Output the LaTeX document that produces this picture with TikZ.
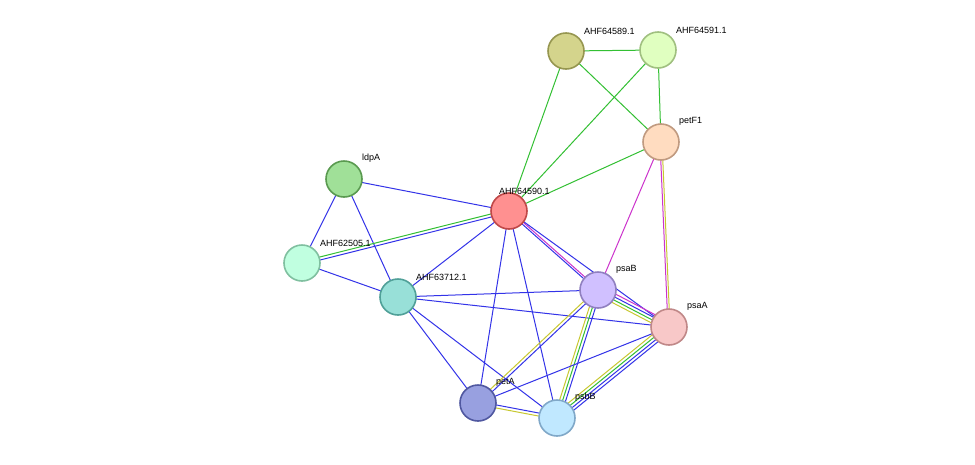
\documentclass[tikz,border=0pt]{standalone}
\usepackage{fontspec}
\setmainfont{Liberation Sans}
\usetikzlibrary{calc}
\definecolor{eg}{HTML}{33C033}
\definecolor{eb}{HTML}{3333E8}
\definecolor{em}{HTML}{CC33CC}
\definecolor{ey}{HTML}{C8C830}
\begin{document}
\begin{tikzpicture}[x=1pt,y=-1pt,
  prot/.style={circle,minimum size=36pt,inner sep=0pt,line width=1.6pt},
  lab/.style={font=\fontsize{9}{10}\selectfont,anchor=south west,inner sep=1pt},
  e/.style={line width=1pt}]
\useasboundingbox[fill=white] (0,0) rectangle (975,464);
\coordinate (c89) at (566,51);
\coordinate (c91) at (658,50);
\coordinate (cF1) at (661,142);
\coordinate (cld) at (344,179);
\coordinate (c90) at (509,211);
\coordinate (c05) at (302,263);
\coordinate (c12) at (398,297);
\coordinate (cB) at (598,290);
\coordinate (cA) at (669,327);
\coordinate (cpA) at (478,403);
\coordinate (cpB) at (557,418);
\newcommand{\medge}[3]{\foreach \c/\o in {#3}{\draw[e,\c] ($(#1)!\o pt!90:(#2)$) -- ($(#2)!\o pt!-90:(#1)$);}}
\medge{c89}{c91}{eg/0}
\medge{c89}{cF1}{eg/0}
\medge{c89}{c90}{eg/0}
\medge{c91}{cF1}{eg/0}
\medge{c91}{c90}{eg/0}
\medge{cF1}{c90}{eg/0}
\medge{cF1}{cB}{em/0}
\medge{cF1}{cA}{em/-1,ey/1}
\medge{cld}{c90}{eb/0}
\medge{cld}{c05}{eb/0}
\medge{cld}{c12}{eb/0}
\medge{c90}{c05}{eg/-1.5,eb/1.5}
\medge{c90}{c12}{eb/0}
\medge{c90}{cB}{eb/-1,em/1}
\medge{c90}{cA}{eb/0}
\medge{c90}{cpA}{eb/0}
\medge{c90}{cpB}{eb/0}
\medge{c05}{c12}{eb/0}
\medge{c12}{cB}{eb/0}
\medge{c12}{cA}{eb/0}
\medge{c12}{cpA}{eb/0}
\medge{c12}{cpB}{eb/0}
\medge{cB}{cA}{ey/-4.5,eg/-1.5,eb/1.5,em/4.5}
\medge{cB}{cpA}{ey/-1.5,eb/1.5}
\medge{cB}{cpB}{ey/-3,eg/0,eb/3}
\medge{cA}{cpA}{eb/0}
\medge{cA}{cpB}{ey/-4.5,eg/-1.5,eb/1.5,eb/4.5}
\medge{cpA}{cpB}{ey/-1.5,eb/1.5}
\node[prot,fill={rgb,255:red,212;green,212;blue,140},draw={rgb,255:red,150;green,150;blue,80}] (n89) at (c89) {};
\node[prot,fill={rgb,255:red,224;green,255;blue,192},draw={rgb,255:red,160;green,192;blue,128}] (n91) at (c91) {};
\node[prot,fill={rgb,255:red,255;green,220;blue,192},draw={rgb,255:red,192;green,154;blue,128}] (nF1) at (cF1) {};
\node[prot,fill={rgb,255:red,160;green,224;blue,152},draw={rgb,255:red,90;green,154;blue,80}] (nld) at (cld) {};
\node[prot,fill={rgb,255:red,255;green,144;blue,144},draw={rgb,255:red,192;green,72;blue,72}] (n90) at (c90) {};
\node[prot,fill={rgb,255:red,192;green,255;blue,224},draw={rgb,255:red,128;green,192;blue,160}] (n05) at (c05) {};
\node[prot,fill={rgb,255:red,152;green,224;blue,216},draw={rgb,255:red,80;green,160;blue,152}] (n12) at (c12) {};
\node[prot,fill={rgb,255:red,208;green,192;blue,255},draw={rgb,255:red,144;green,128;blue,192}] (nB) at (cB) {};
\node[prot,fill={rgb,255:red,248;green,200;blue,200},draw={rgb,255:red,192;green,136;blue,136}] (nA) at (cA) {};
\node[prot,fill={rgb,255:red,152;green,160;blue,224},draw={rgb,255:red,80;green,88;blue,160}] (npA) at (cpA) {};
\node[prot,fill={rgb,255:red,192;green,232;blue,255},draw={rgb,255:red,128;green,168;blue,200}] (npB) at (cpB) {};
\node[lab] (l89) at ($(c89)+(17,-15)$) {AHF64589.1};
\node[lab] (l91) at ($(c91)+(17,-15)$) {AHF64591.1};
\node[lab] (lF1) at ($(cF1)+(17,-15)$) {petF1};
\node[lab] (lld) at ($(cld)+(17,-15)$) {ldpA};
\node[lab] (l90) at ($(c90)+(-11,-15)$) {AHF64590.1};
\node[lab] (l05) at ($(c05)+(17,-15)$) {AHF62505.1};
\node[lab] (l12) at ($(c12)+(17,-15)$) {AHF63712.1};
\node[lab] (lB) at ($(cB)+(17,-15)$) {psaB};
\node[lab] (lA) at ($(cA)+(17,-15)$) {psaA};
\node[lab] (lpA) at ($(cpA)+(17,-15)$) {petA};
\node[lab] (lpB) at ($(cpB)+(17,-15)$) {psbB};
\end{tikzpicture}
\end{document}
